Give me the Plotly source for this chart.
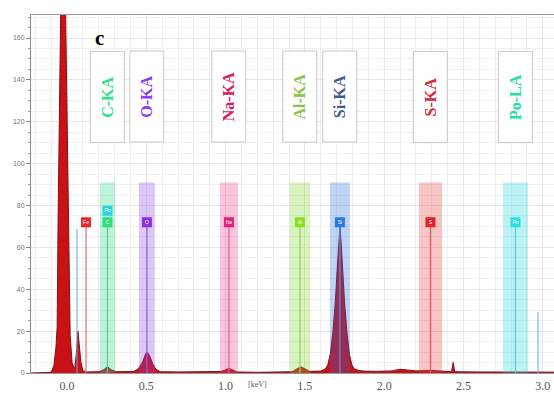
import plotly.graph_objects as go

# ---------------- data ----------------
energy_kev = [-0.227, -0.12, -0.107, -0.095, -0.082, -0.07, -0.062, -0.056, -0.048, -0.038, -0.025,
              -0.012, 0.0, 0.008, 0.014, 0.02, 0.032, 0.044, 0.05, 0.06, 0.069, 0.079, 0.088, 0.101,
              0.13, 0.2, 0.23, 0.255, 0.28, 0.31, 0.36, 0.42, 0.45, 0.475, 0.495, 0.505, 0.52,
              0.54, 0.56, 0.59, 0.7, 0.85, 0.97, 1.0, 1.02, 1.045, 1.07, 1.2, 1.35, 1.42, 1.45,
              1.475, 1.5, 1.53, 1.60, 1.63, 1.645, 1.66, 1.676, 1.691, 1.706, 1.714, 1.721, 1.728,
              1.736, 1.751, 1.766, 1.781, 1.796, 1.81, 1.84, 1.87, 1.95, 2.05, 2.1, 2.15, 2.2,
              2.3, 2.38, 2.425, 2.435, 2.445, 2.6, 2.8, 3.0, 3.071]
counts = [0, 0, 0.3, 1, 4, 12, 22, 75, 130, 190, 260,
          190, 120, 80, 40, 18, 5, 2.5, 3, 10, 20, 13, 5, 1,
          0.5, 0.6, 1.5, 3, 1.5, 0.6, 0.5, 0.7, 2, 5, 9, 10, 8.5,
          4.5, 1.8, 0.6, 0.5, 0.5, 0.7, 1.5, 2.2, 1.5, 0.5, 0.3, 0.3, 0.6, 2,
          3, 2, 0.8, 0.9, 2, 4, 9, 19, 33, 52, 63, 70, 63,
          52, 33, 19, 9, 4, 2, 1.2, 0.9, 0.8, 1, 1.8, 1.5, 1,
          1.2, 0.6, 0.6, 5, 0.6, 0.5, 0.4, 0.4, 0.4]

band_names = ["C-KA", "O-KA", "Na-KA", "Al-KA", "Si-KA", "S-KA", "Po-LA"]
band_kev = [0.255, 0.504, 1.021, 1.469, 1.721, 2.292, 2.828]
band_width_kev = [0.095, 0.10, 0.113, 0.13, 0.126, 0.145, 0.158]
band_top = 91
label_colors = ["#2fe08f", "#8b3cf0", "#d81b60", "#8bc34a", "#3f5a8f", "#d3293a", "#22e0a0"]
band_fill = ["rgba(40,215,130,0.30)", "rgba(140,70,235,0.30)", "rgba(240,60,140,0.30)",
             "rgba(130,220,40,0.30)", "rgba(40,110,225,0.30)", "rgba(235,60,60,0.30)",
             "rgba(30,215,220,0.30)"]

marker_syms = ["Fe", "Po", "C", "O", "Na", "Al", "Si", "S", "Po"]
marker_kev = [0.12, 0.255, 0.255, 0.504, 1.021, 1.469, 1.721, 2.292, 2.828]
marker_level = [0, 1, 0, 0, 0, 0, 0, 0, 0]
marker_colors = ["#e8262c", "#2ad4e8", "#2ee07a", "#8a30e0", "#e0207a", "#86e020", "#2a7ae0",
                 "#e0202a", "#28e0e0"]
line_colors = ["#e07070", "#50c8a0", "#50c8a0", "#9060d8", "#d86098", "#90d060", "#5a90d8",
               "#d06060", "#50d0d0"]
line_top = 70

extra_kev = [0.063, 2.97]
extra_counts = [69, 29]

x_ticks = [0.0, 0.5, 1.0, 1.5, 2.0, 2.5, 3.0]
y_ticks = [0, 20, 40, 60, 80, 100, 120, 140, 160]

# ---------------- figure ----------------
fig = go.Figure()

# spectrum
fig.add_trace(go.Scatter(x=energy_kev, y=counts, mode="lines", fill="tozeroy",
                         fillcolor="#c81216", line=dict(color="#8a0c14", width=1),
                         hoverinfo="skip", showlegend=False))

# element bands (drawn over the spectrum, translucent)
for e, w, c in zip(band_kev, band_width_kev, band_fill):
    fig.add_trace(go.Scatter(x=[e - w / 2, e + w / 2, e + w / 2, e - w / 2, e - w / 2],
                             y=[0, 0, band_top, band_top, 0], mode="lines", fill="toself",
                             fillcolor=c, line=dict(width=0), hoverinfo="skip",
                             showlegend=False))

# thin blue reference lines
for e, h in zip(extra_kev, extra_counts):
    fig.add_trace(go.Scatter(x=[e, e], y=[0, h], mode="lines",
                             line=dict(color="#6aa6e0", width=1), hoverinfo="skip",
                             showlegend=False))

# element marker lines
for e, lv, lc in zip(marker_kev, marker_level, line_colors):
    if lv == 0:
        fig.add_trace(go.Scatter(x=[e, e], y=[0, line_top], mode="lines",
                                 line=dict(color=lc, width=1.2), hoverinfo="skip",
                                 showlegend=False))

# marker squares
fig.add_trace(go.Scatter(x=marker_kev, y=[72 + 5.5 * lv for lv in marker_level],
                         mode="markers+text", text=marker_syms, textposition="middle center",
                         textfont=dict(size=5, color="white", family="Arial"),
                         marker=dict(symbol="square", size=10, color=marker_colors,
                                     line=dict(width=0)),
                         hoverinfo="skip", showlegend=False))

# label boxes
for name, e, col in zip(band_names, band_kev, label_colors):
    fig.add_annotation(x=e, y=132, xref="x", yref="y", text="<b>" + name + "</b>",
                       showarrow=False, textangle=-90,
                       font=dict(family="Liberation Serif", size=16, color=col),
                       bordercolor="#c8c8c8", borderwidth=1, bgcolor="white",
                       width=88, height=31, align="center", valign="middle")

# panel label
fig.add_annotation(x=0.208, y=160, xref="x", yref="y", text="<b>c</b>", showarrow=False,
                   font=dict(family="Liberation Serif", size=21, color="black"))

# unit label
fig.add_annotation(x=1.204, y=0, xref="x", yref="paper", yanchor="top", yshift=-5,
                   text="[keV]", showarrow=False,
                   font=dict(family="Liberation Serif", size=8, color="#555"))

fig.update_layout(
    width=554, height=403,
    margin=dict(l=31, r=0, t=15, b=30),
    paper_bgcolor="white", plot_bgcolor="white",
    showlegend=False,
)
fig.update_xaxes(range=[-0.227, 3.071], tickvals=x_ticks,
                 ticktext=[f"{v:.1f}" for v in x_ticks],
                 tickfont=dict(family="Liberation Serif", size=12, color="#555"),
                 showline=True, mirror=True, linecolor="#9a9a9a", linewidth=1,
                 showgrid=True, gridcolor="#e6e6e6", gridwidth=1, zeroline=False,
                 ticks="", ticklabelstandoff=2,
                 minor=dict(dtick=0.1, showgrid=True, gridcolor="#eeeeee"))
fig.update_yaxes(range=[0, 171], tickvals=y_ticks,
                 tickfont=dict(family="Arial", size=7, color="#777"),
                 showline=True, linecolor="#8a8a8a", linewidth=1,
                 ticks="outside", ticklen=4, tickcolor="#888",
                 showgrid=True, gridcolor="#e6e6e6", zeroline=False,
                 minor=dict(dtick=5, showgrid=True, gridcolor="#f0f0f0", ticks="outside",
                            ticklen=2, tickcolor="#999"))

fig.write_html("out.html")
